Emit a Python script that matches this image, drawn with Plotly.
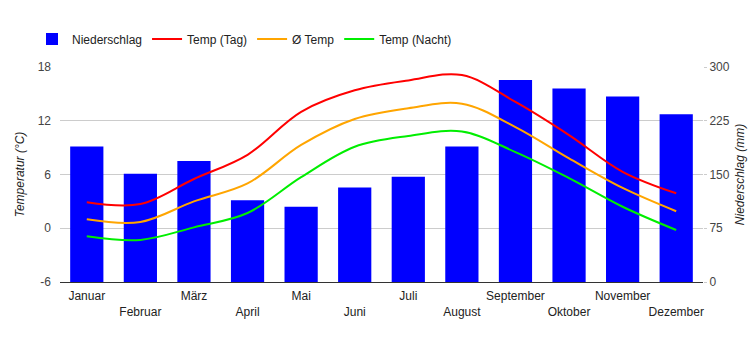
import plotly.graph_objects as go

months = ["Januar", "Februar", "März", "April", "Mai", "Juni",
          "Juli", "August", "September", "Oktober", "November", "Dezember"]
precip = [189, 151, 169, 114, 105, 132, 147, 189, 282, 270, 259, 234]
temp_day = [2.9, 2.7, 5.5, 8.2, 13.0, 15.4, 16.5, 17.1, 14.1, 10.4, 6.3, 3.9]
temp_avg = [1.0, 0.7, 3.0, 5.0, 9.3, 12.2, 13.4, 13.9, 11.3, 7.8, 4.5, 1.9]
temp_night = [-0.9, -1.3, 0.1, 1.7, 5.7, 9.1, 10.3, 10.8, 8.5, 5.6, 2.4, -0.2]
temp_ticks = [-6, 0, 6, 12, 18]
temp_tick_labels = ["-6", "0", "6", "12", "18"]
precip_ticks = [0, 75, 150, 225, 300]

tick_text = [m if i % 2 == 0 else "<br>" + m for i, m in enumerate(months)]

fig = go.Figure()
fig.add_trace(go.Bar(x=months, y=precip, name="Niederschlag",
                     marker=dict(color="#0000ff", line=dict(width=0)), yaxis="y"))
fig.add_trace(go.Scatter(x=months, y=temp_day, name="Temp (Tag)", mode="lines",
                         line=dict(color="#ff0000", width=2, shape="spline", smoothing=1.0), yaxis="y2"))
fig.add_trace(go.Scatter(x=months, y=temp_avg, name="Ø Temp", mode="lines",
                         line=dict(color="#ffa500", width=2, shape="spline", smoothing=1.0), yaxis="y2"))
fig.add_trace(go.Scatter(x=months, y=temp_night, name="Temp (Nacht)", mode="lines",
                         line=dict(color="#00ee00", width=2, shape="spline", smoothing=1.0), yaxis="y2"))

font = dict(family="Liberation Sans, Arial, sans-serif", size=12, color="#222222")

fig.update_layout(
    width=750, height=350,
    margin=dict(l=60, r=47, t=67, b=68, autoexpand=False),
    paper_bgcolor="white", plot_bgcolor="white",
    font=font,
    bargap=0.38,
    showlegend=True,
    legend=dict(orientation="h", x=32 / 750, y=1 - 39 / 350, xref="container", yref="container",
                xanchor="left", yanchor="middle", font=dict(size=12, color="#222222"),
                itemwidth=30, traceorder="normal", bgcolor="rgba(0,0,0,0)"),
    xaxis=dict(tickmode="array", tickvals=months, ticktext=tick_text, tickangle=0,
               automargin=False, ticklabelstandoff=3,
               showline=True, linecolor="#333333", linewidth=1, ticks="",
               tickfont=dict(size=12, color="#222222"), showgrid=False,
               range=[-0.5, 11.5]),
    yaxis=dict(side="right", range=[0, 300], tickvals=precip_ticks,
               automargin=False,
               showgrid=False, zeroline=False,
               tickfont=dict(size=12, color="#444444"),
               title=dict(text="<i>Niederschlag (mm)</i>", font=dict(size=12, color="#222222"), standoff=6),
               ticks="outside", ticklen=3, tickcolor="#cccccc"),
    yaxis2=dict(side="left", overlaying="y", range=[-6, 18], tickvals=temp_ticks,
                ticktext=temp_tick_labels, automargin=False, ticklabelstandoff=8,
                showgrid=True, gridcolor="#cccccc", gridwidth=1, zeroline=False,
                tickfont=dict(size=12, color="#444444"),
                title=dict(text="<i>Temperatur (°C)</i>", font=dict(size=12, color="#222222"), standoff=10)),
)

fig.write_html("out.html")
